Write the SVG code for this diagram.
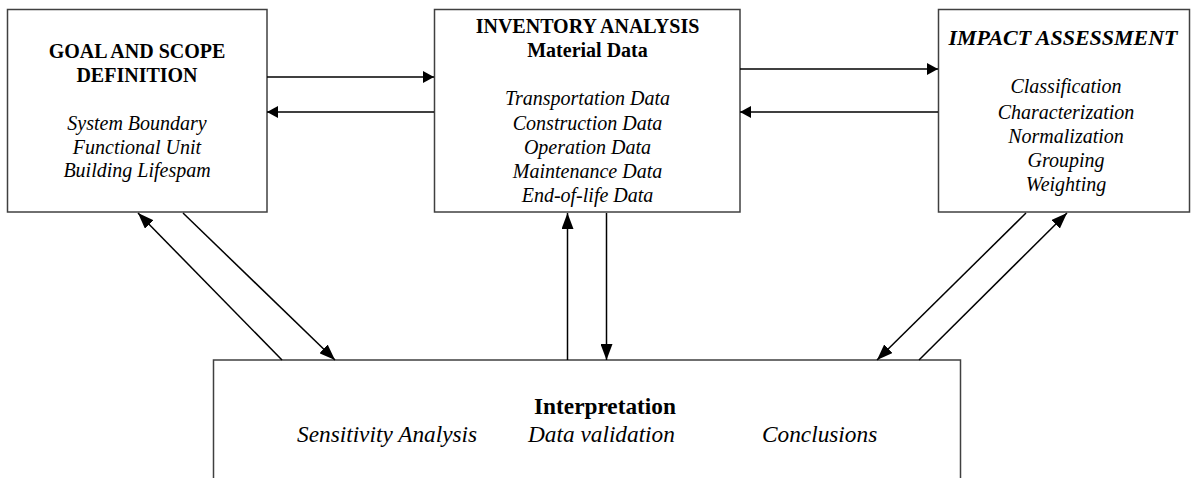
<svg xmlns="http://www.w3.org/2000/svg" width="1191" height="478" viewBox="0 0 1191 478">
<style>
.box{fill:#fff;stroke:#404040;stroke-width:1.5}
.t{font-family:"Liberation Serif","Times New Roman",serif;fill:#000;text-anchor:middle;font-size:20px}
.b{font-weight:bold}
.i{font-style:italic}
.bt{font-size:23.3px}
.c line{stroke:#000;stroke-width:1.5;fill:none}
</style>
<defs>
<marker id="ah" markerUnits="userSpaceOnUse" markerWidth="12" markerHeight="12" refX="11" refY="6" orient="auto">
<path d="M0,0 L11,6 L0,12 z" fill="#000"/>
</marker>
<marker id="al" markerUnits="userSpaceOnUse" markerWidth="17" markerHeight="12" refX="16" refY="6" orient="auto">
<path d="M0,0 L16,6 L0,12 z" fill="#000"/>
</marker>
</defs>
<rect width="1191" height="478" fill="#fff"/>
<g id="goal">
<rect class="box" x="7.5" y="9.5" width="259.5" height="202.5"/>
<text class="t b" x="137" y="58">GOAL AND SCOPE</text>
<text class="t b" x="137" y="82">DEFINITION</text>
<text class="t i" x="137" y="130">System Boundary</text>
<text class="t i" x="137" y="153.5">Functional Unit</text>
<text class="t i" x="137" y="177">Building Lifespam</text>
</g>
<g id="inventory">
<rect class="box" x="434.5" y="9.5" width="305.5" height="202.5"/>
<text class="t b" x="587.5" y="33">INVENTORY ANALYSIS</text>
<text class="t b" x="587.5" y="57">Material Data</text>
<text class="t i" x="587.5" y="105">Transportation Data</text>
<text class="t i" x="587.5" y="130">Construction Data</text>
<text class="t i" x="587.5" y="153.5">Operation Data</text>
<text class="t i" x="587.5" y="178">Maintenance Data</text>
<text class="t i" x="587.5" y="202">End-of-life Data</text>
</g>
<g id="impact">
<rect class="box" x="938.5" y="9.5" width="251" height="202.5"/>
<text class="t b i" x="1063" y="44.5" textLength="229" lengthAdjust="spacingAndGlyphs">IMPACT ASSESSMENT</text>
<text class="t i" x="1066" y="93">Classification</text>
<text class="t i" x="1066" y="119">Characterization</text>
<text class="t i" x="1066" y="143">Normalization</text>
<text class="t i" x="1066" y="167">Grouping</text>
<text class="t i" x="1066" y="191">Weighting</text>
</g>
<g id="interpretation">
<rect class="box" x="213.5" y="360" width="747" height="140"/>
<text class="t b bt" x="605" y="414">Interpretation</text>
<text class="t i bt" x="297" y="442" style="text-anchor:start">Sensitivity Analysis</text>
<text class="t i bt" x="528" y="442" style="text-anchor:start">Data validation</text>
<text class="t i bt" x="762" y="442" style="text-anchor:start">Conclusions</text>
</g>
<g id="connectors" class="c">
<line x1="267" y1="77" x2="434" y2="77" marker-end="url(#ah)"/>
<line x1="434" y1="112" x2="267" y2="112" marker-end="url(#ah)"/>
<line x1="740" y1="69" x2="938" y2="69" marker-end="url(#ah)"/>
<line x1="938" y1="112" x2="740" y2="112" marker-end="url(#ah)"/>
<line x1="282" y1="360" x2="138" y2="213" marker-end="url(#al)"/>
<line x1="183" y1="213" x2="335" y2="360" marker-end="url(#al)"/>
<line x1="567.5" y1="360" x2="567.5" y2="213" marker-end="url(#al)"/>
<line x1="606.5" y1="213" x2="606.5" y2="360" marker-end="url(#al)"/>
<line x1="1026" y1="213" x2="877" y2="360" marker-end="url(#al)"/>
<line x1="919" y1="360" x2="1067" y2="213" marker-end="url(#al)"/>
</g>
</svg>
